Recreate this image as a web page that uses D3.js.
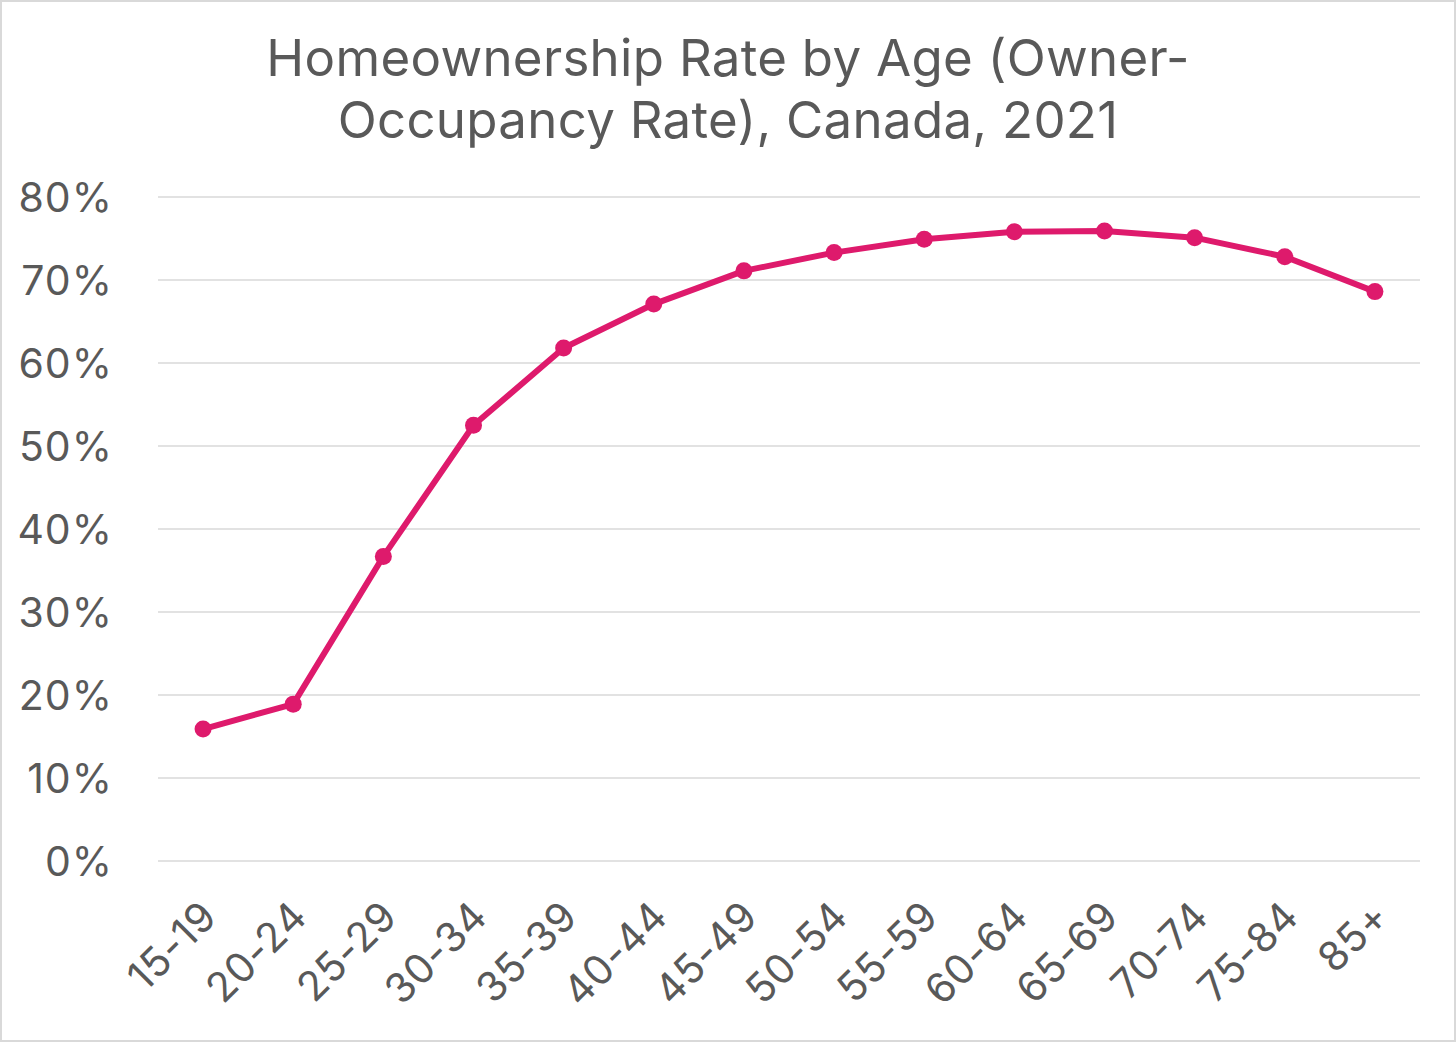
<!DOCTYPE html>
<html>
<head>
<meta charset="utf-8">
<script src="https://cdn.jsdelivr.net/npm/d3@7"></script>
<style>
  body { margin: 0; background: #fff; }
  svg { display: block; font-family: Inter, "Noto Sans", sans-serif; }
</style>
</head>
<body>
<div id="chart"></div>
<script>
// Age groups and owner-occupancy rate (%)
const ageGroups = ["15-19", "20-24", "25-29", "30-34", "35-39", "40-44", "45-49",
  "50-54", "55-59", "60-64", "65-69", "70-74", "75-84", "85+"];
const ownerRate = [15.9, 18.9, 36.7, 52.5, 61.8, 67.1, 71.1, 73.3, 74.9, 75.8, 75.9, 75.1, 72.8, 68.6];
const yTicks = [0, 10, 20, 30, 40, 50, 60, 70, 80];
const titleLines = ["Homeownership Rate by Age (Owner-", "Occupancy Rate), Canada, 2021"];

const width = 1456;
const height = 1042;
const margin = { top: 197, right: 36, bottom: 181, left: 158 };
const textColor = "#595959";
const lineColor = "#DE1A6C";

const svg = d3.select("#chart")
  .append("svg")
  .attr("width", width)
  .attr("height", height);

// outer border
svg.append("rect")
  .attr("x", 1).attr("y", 1)
  .attr("width", width - 2).attr("height", height - 2)
  .attr("fill", "#fff")
  .attr("stroke", "#d9d9d9")
  .attr("stroke-width", 2);

// title
svg.append("text")
  .attr("x", 728)
  .attr("y", 76)
  .attr("text-anchor", "middle")
  .attr("fill", textColor)
  .style("font-size", "51px")
  .style("letter-spacing", "0.3px")
  .selectAll("tspan")
  .data(titleLines)
  .join("tspan")
  .attr("x", 728)
  .attr("dy", (d, i) => i === 0 ? 0 : 62)
  .text(d => d);

const x = d3.scaleBand()
  .domain(ageGroups)
  .range([margin.left, width - margin.right]);

const y = d3.scaleLinear()
  .domain([0, 80])
  .range([height - margin.bottom, margin.top]);

// gridlines
svg.append("g")
  .selectAll("line")
  .data(yTicks)
  .join("line")
  .attr("x1", margin.left)
  .attr("x2", width - margin.right)
  .attr("y1", d => y(d))
  .attr("y2", d => y(d))
  .attr("stroke", "#d9d9d9")
  .attr("stroke-width", 1.5);

// y axis labels
const yAxis = svg.append("g")
  .attr("transform", `translate(113, 0)`)
  .call(d3.axisLeft(y).tickValues(yTicks).tickFormat(d => d + "%").tickSize(0).tickPadding(0));
yAxis.select(".domain").remove();
yAxis.selectAll("text")
  .attr("fill", textColor)
  .style("font-family", "Inter, 'Noto Sans', sans-serif")
  .style("font-size", "41px")
  .style("letter-spacing", "1px")
  .attr("dy", "0.36em");

// x axis labels
const xAxis = svg.append("g")
  .attr("transform", `translate(0, ${height - margin.bottom})`)
  .call(d3.axisBottom(x).tickSize(0).tickPadding(0));
xAxis.select(".domain").remove();
xAxis.selectAll("text")
  .attr("fill", textColor)
  .style("font-family", "Inter, 'Noto Sans', sans-serif")
  .style("font-size", "41px")
  .style("letter-spacing", "0.5px")
  .style("text-anchor", "end")
  .attr("dy", "0")
  .attr("transform", "translate(16, 58) rotate(-45)");

// line
const line = d3.line()
  .x((d, i) => x(ageGroups[i]) + x.bandwidth() / 2)
  .y(d => y(d));

svg.append("path")
  .datum(ownerRate)
  .attr("d", line)
  .attr("fill", "none")
  .attr("stroke", lineColor)
  .attr("stroke-width", 6)
  .attr("stroke-linejoin", "round");

svg.append("g")
  .selectAll("circle")
  .data(ownerRate)
  .join("circle")
  .attr("cx", (d, i) => x(ageGroups[i]) + x.bandwidth() / 2)
  .attr("cy", d => y(d))
  .attr("r", 8.5)
  .attr("fill", lineColor);
</script>
</body>
</html>
